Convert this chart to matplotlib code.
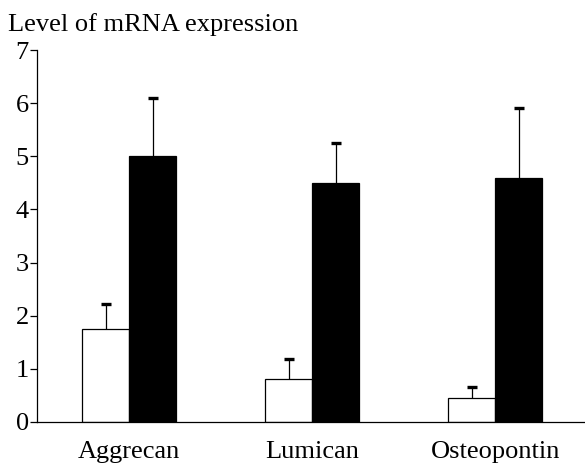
import matplotlib
matplotlib.use("Agg")
import matplotlib.pyplot as plt
import numpy as np

plt.rcParams["font.family"] = ["Liberation Serif", "DejaVu Serif"]

genes = ["Aggrecan", "Lumican", "Osteopontin"]
control_mean = [1.75, 0.80, 0.45]
control_err = [0.47, 0.39, 0.21]
treated_mean = [5.0, 4.5, 4.6]
treated_err = [1.1, 0.75, 1.3]

fig = plt.figure(figsize=(5.85, 4.63), dpi=100)
ax = fig.add_axes([37 / 585, 41 / 463, 548 / 585, 372 / 463])

x = np.arange(len(genes))
w = 0.257

ax.bar(x - w / 2, control_mean, w, color="white", edgecolor="black", linewidth=0.9, zorder=2)
ax.bar(x + w / 2, treated_mean, w, color="black", edgecolor="black", linewidth=0.9, zorder=2)

# upward-only error bars
for xs, m, e in [(x - w / 2, control_mean, control_err), (x + w / 2, treated_mean, treated_err)]:
    top = np.array(m) + np.array(e)
    ax.vlines(xs, m, top, color="black", linewidth=0.9, zorder=1)
    ax.plot(xs, top, linestyle="none", marker="_", markersize=7, markeredgewidth=2.4,
            color="black", zorder=3)

ax.set_ylim(0, 7)
ax.set_xlim(-0.503, 2.49)
ax.set_yticks(range(0, 8))
ax.tick_params(axis="y", direction="out", length=5, width=0.9, labelsize=19, pad=1)
ax.set_xticks(x)
ax.set_xticklabels(genes, fontsize=19)
ax.tick_params(axis="x", length=0, pad=13.5)

ax.spines["top"].set_visible(False)
ax.spines["right"].set_visible(False)
ax.spines["left"].set_linewidth(0.9)
ax.spines["bottom"].set_linewidth(0.9)

fig.text(8 / 585, 1 - 31 / 463, "Level of mRNA expression", fontsize=19, va="baseline", ha="left")

plt.savefig("out.png", dpi=100)
